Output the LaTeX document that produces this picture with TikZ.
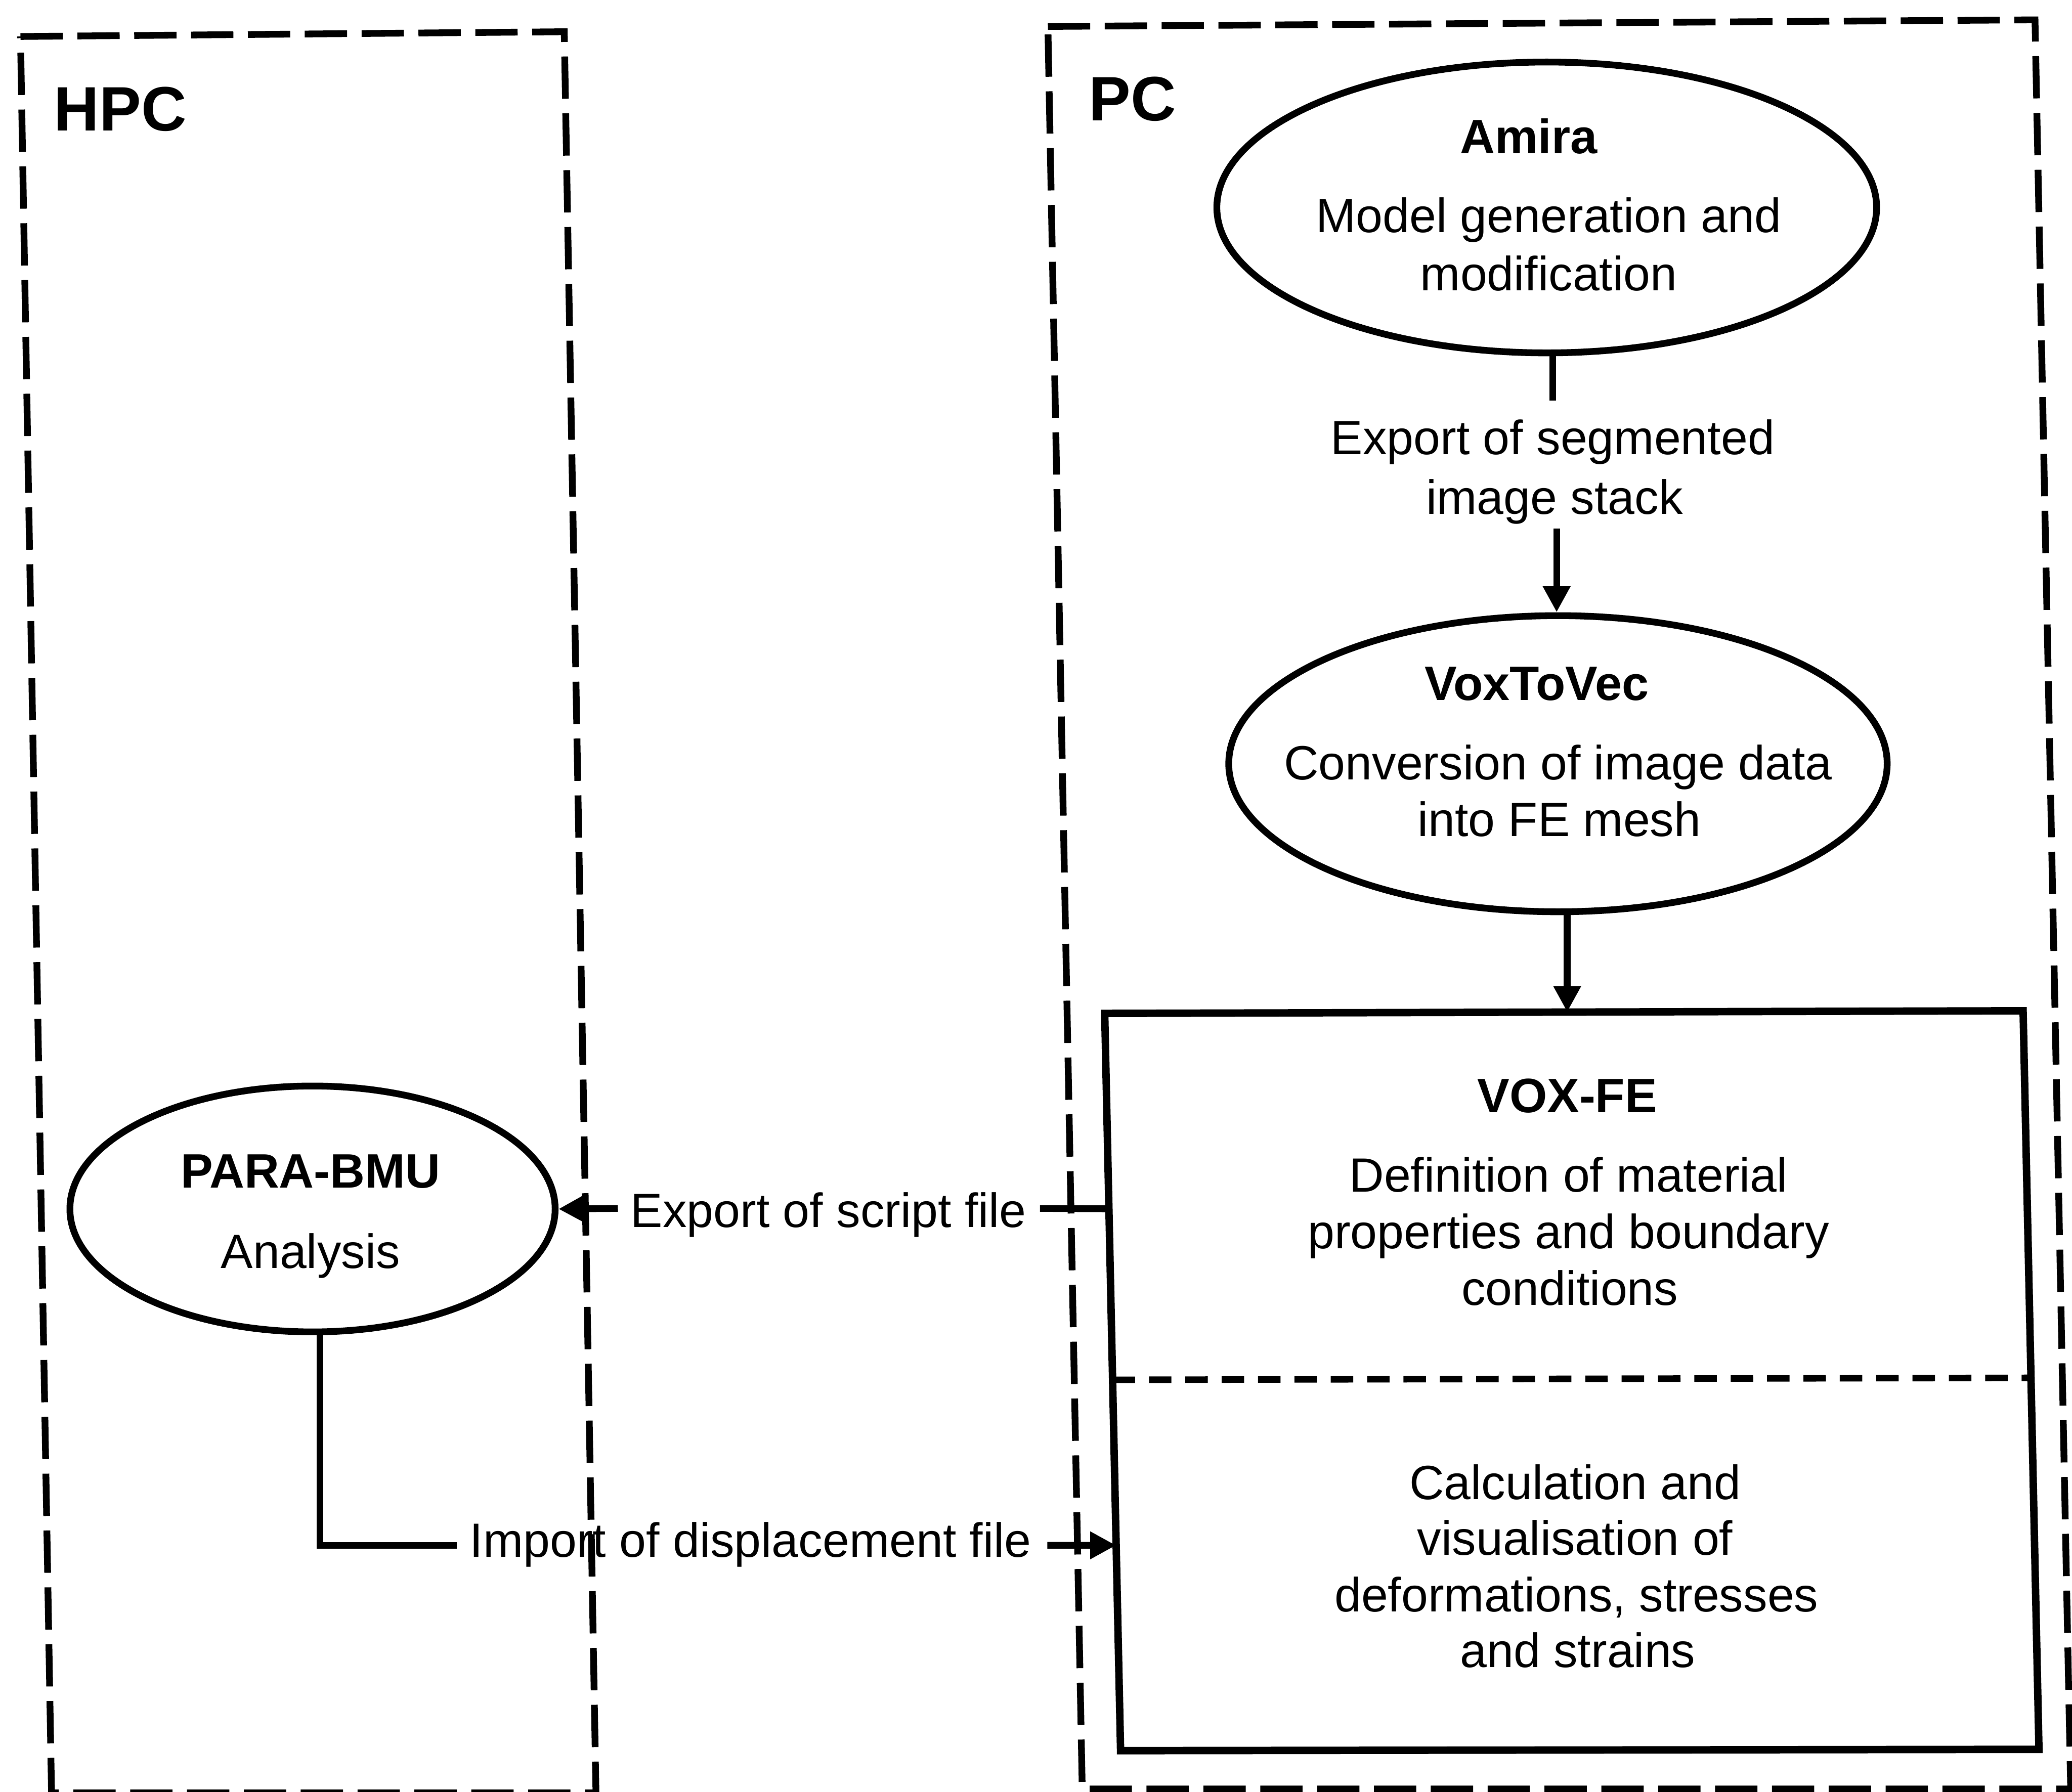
\documentclass[tikz,border=0pt]{standalone}
\usepackage{fontspec}
\setmainfont{Liberation Sans}
\usetikzlibrary{arrows.meta,shapes.geometric,calc}
\begin{document}
\begin{tikzpicture}[x=0.01cm,y=-0.01cm,
  outerbox/.style={line width=1.45pt, dash pattern=on 0.32cm off 0.11cm},
  innerdash/.style={line width=1.4pt, dash pattern=on 0.17cm off 0.105cm},
  solidbox/.style={line width=1.6pt},
  ell/.style={draw, line width=1.45pt, ellipse, inner sep=0pt},
  txt/.style={inner sep=0pt, anchor=base, font=\fontsize{10.35}{12.4}\selectfont},
  ttl/.style={inner sep=0pt, anchor=base, font=\fontsize{10.4}{12.4}\selectfont\bfseries},
  bigttl/.style={inner sep=0pt, anchor=base, font=\fontsize{13.5}{16}\selectfont\bfseries},
  con/.style={line width=1.45pt},
  arr/.style={line width=1.45pt, -{Triangle[length=5.6pt,width=5.6pt]}}
]
\useasboundingbox (0,0) rectangle (1568,1356);

% outer dashed regions
\coordinate (hA) at (15.5,27.6);
\coordinate (hB) at (427,24);
\coordinate (hC) at (451,1357);
\coordinate (hD) at (39,1357);
\draw[outerbox] (hA) -- (hB) -- (hC) -- (hD) -- cycle;

\coordinate (pA) at (793,20);
\coordinate (pB) at (1540,15);
\coordinate (pC) at (1567,1354);
\coordinate (pD) at (819,1354);
\draw[outerbox] (pA) -- (pB) -- (pC) -- (pD) -- cycle;

\node[bigttl] (tHPC) at (91,99) {HPC};
\node[bigttl] (tPC) at (857,91.4) {PC};

% ellipses
\node[ell, minimum width=4.99cm, minimum height=2.20cm] (amira) at (1170.5,157) {};
\node[ell, minimum width=4.98cm, minimum height=2.24cm] (vox) at (1179,578) {};
\node[ell, minimum width=3.67cm, minimum height=1.86cm] (para) at (236.5,915) {};

% VOX-FE box
\coordinate (vA) at (836,767);
\coordinate (vB) at (1531,765);
\coordinate (vC) at (1543,1324);
\coordinate (vD) at (848,1325);
\draw[solidbox] (vA) -- (vB) -- (vC) -- (vD) -- cycle;
\draw[innerdash] ($(vA)!0.497!(vD)$) -- ($(vB)!0.497!(vC)$);

% texts
\node[ttl] (amT) at (1157,116) {Amira};
\node[txt] (amL1) at (1172,176) {Model generation and};
\node[txt] (amL2) at (1172,220) {modification};

\node[txt] (lbA1) at (1175,344) {Export of segmented};
\node[txt] (lbA2) at (1176.5,389) {image stack};

\node[ttl] (vvT) at (1163,530) {VoxToVec};
\node[txt] (vvL1) at (1179,590) {Conversion of image data};
\node[txt] (vvL2) at (1180,633) {into FE mesh};

\node[ttl] (vfT0) at (1186,842) {VOX-FE};
\node[txt] (vfU1) at (1187,902) {Definition of material};
\node[txt] (vfU2) at (1187,945) {properties and boundary};
\node[txt] (vfU3) at (1188,988) {conditions};
\node[txt] (vfD1) at (1192,1135) {Calculation and};
\node[txt] (vfD2) at (1192,1177) {visualisation of};
\node[txt] (vfD3) at (1193,1220) {deformations, stresses};
\node[txt] (vfD4) at (1194,1262) {and strains};

\node[ttl] (paT) at (235,899) {PARA-BMU};
\node[txt] (paL) at (235,960) {Analysis};

\node[txt] (lbS) at (627,928.7) {Export of script file};
\node[txt] (lbD) at (568,1178.6) {Import of displacement file};

% connector points
\coordinate (c1) at (1175,303);
\coordinate (c2) at (1178,400);
\coordinate (vfTop) at ($(vA)!0.5036!(vB)$);
\coordinate (vfL1) at ($(vA)!0.265!(vD)$);
\coordinate (vfL2) at ($(vA)!0.7215!(vD)$);
\coordinate (c3) at (787,914.6);
\coordinate (c4) at (467.6,914.6);
\coordinate (c5) at (242,1169.6);
\coordinate (c6) at (345.6,1169.6);
\coordinate (c7) at (792.6,1169.6);

% connectors
\draw[con] (c1 |- amira.south) -- (c1);
\draw[arr] (c2) -- (c2 |- vox.north);
\draw[arr] (vfTop |- vox.south) -- (vfTop);
\draw[con] (vfL1) -- (c3);
\draw[arr] (c4) -- (para.east);
\draw[con] (c5 |- para.south) -- (c5) -- (c6);
\draw[arr] (c7) -- (vfL2);
\end{tikzpicture}
\end{document}
